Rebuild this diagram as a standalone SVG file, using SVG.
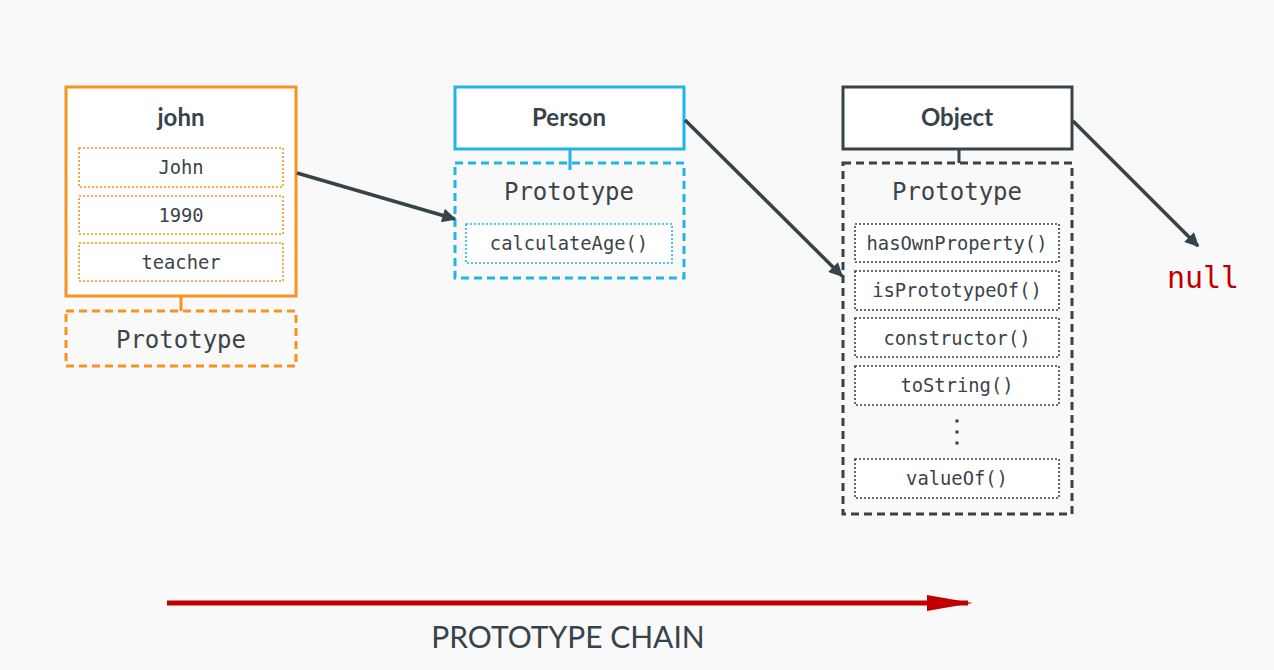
<svg xmlns="http://www.w3.org/2000/svg" width="1274" height="670" viewBox="0 0 1274 670">
<defs>
<style>
.title{font-family:Lato,"Liberation Sans",sans-serif;font-weight:700;font-size:24px;fill:#37434a;text-anchor:middle}
.mono{font-family:"DejaVu Sans Mono","Liberation Mono",monospace;fill:#3a4449;text-anchor:middle}
.big{font-size:24px}
.small{font-size:18.8px}
.dot{stroke-width:1.6;stroke-dasharray:2 2;fill:#fff}
.dash{stroke-width:3;stroke-dasharray:8 5;fill:none}
.solid{stroke-width:3;fill:#fff}
.conn{stroke:#37434a;stroke-width:3.5;fill:none}
</style>
<marker id="ah" viewBox="0 0 10 10" refX="9" refY="5" markerWidth="18" markerHeight="14" markerUnits="userSpaceOnUse" orient="auto">
<path d="M0,0 L10,5 L0,10 z" fill="#37434a"/>
</marker>
<marker id="rh" viewBox="0 0 10 10" refX="9" refY="5" markerWidth="46" markerHeight="16" markerUnits="userSpaceOnUse" orient="auto" preserveAspectRatio="none">
<path d="M0,0 L10,5 L0,10 z" fill="#c00000"/>
</marker>
</defs>
<rect width="1274" height="670" fill="#f9f9f9"/>

<g id="john">
<line x1="181" y1="296" x2="181" y2="311" stroke="#f7931e" stroke-width="3"/>
<rect class="solid" x="66" y="87" width="230" height="209" stroke="#f7931e"/>
<text class="title" x="181" y="126">john</text>
<rect class="dot" x="79" y="148" width="204" height="39" stroke="#f7931e"/>
<text class="mono small" x="181" y="174">John</text>
<rect class="dot" x="79" y="196" width="204" height="38" stroke="#f7931e"/>
<text class="mono small" x="181" y="222">1990</text>
<rect class="dot" x="79" y="243" width="204" height="38" stroke="#f7931e"/>
<text class="mono small" x="181" y="269">teacher</text>
</g>
<g id="john-prototype">
<rect class="dash" x="66" y="311" width="230" height="55" stroke="#f7931e"/>
<text class="mono big" x="181" y="348">Prototype</text>
</g>

<g id="person">
<line x1="570" y1="149" x2="570" y2="170" stroke="#1fb5e6" stroke-width="3"/>
<rect class="solid" x="455" y="87" width="229" height="62" stroke="#1fb5e6"/>
<text class="title" x="569" y="126">Person</text>
</g>
<g id="person-prototype">
<rect class="dash" x="455" y="163" width="229" height="115" stroke="#1fb5e6"/>
<text class="mono big" x="569" y="200">Prototype</text>
<rect class="dot" x="466" y="224" width="206" height="39" stroke="#1fb5e6"/>
<text class="mono small" x="569" y="250">calculateAge()</text>
</g>

<g id="object">
<line x1="959" y1="149" x2="959" y2="163" stroke="#37434a" stroke-width="3"/>
<rect class="solid" x="843" y="87" width="229" height="62" stroke="#37434a"/>
<text class="title" x="957" y="126">Object</text>
</g>
<g id="object-prototype">
<rect class="dash" x="843" y="163" width="229" height="351" stroke="#37434a"/>
<text class="mono big" x="957" y="200">Prototype</text>
<rect class="dot" x="855" y="224" width="204" height="38" stroke="#37434a"/>
<text class="mono small" x="957" y="250">hasOwnProperty()</text>
<rect class="dot" x="855" y="271" width="204" height="39" stroke="#37434a"/>
<text class="mono small" x="957" y="297">isPrototypeOf()</text>
<rect class="dot" x="855" y="318" width="204" height="39" stroke="#37434a"/>
<text class="mono small" x="957" y="345">constructor()</text>
<rect class="dot" x="855" y="366" width="204" height="39" stroke="#37434a"/>
<text class="mono small" x="957" y="392">toString()</text>
<circle cx="957" cy="421" r="1.8" fill="#37434a"/>
<circle cx="957" cy="432" r="1.8" fill="#37434a"/>
<circle cx="957" cy="443" r="1.8" fill="#37434a"/>
<rect class="dot" x="855" y="459" width="204" height="39" stroke="#37434a"/>
<text class="mono small" x="957" y="485">valueOf()</text>
</g>

<g id="null">
<text x="1203" y="288" style="font-family:'DejaVu Sans Mono','Liberation Mono',monospace;font-size:30px;fill:#c00000;text-anchor:middle">null</text>
</g>

<g id="connectors">
<line class="conn" x1="297" y1="173" x2="455" y2="219" marker-end="url(#ah)"/>
<line class="conn" x1="685" y1="120" x2="842" y2="276" marker-end="url(#ah)"/>
<line class="conn" x1="1073" y1="121" x2="1198" y2="246" marker-end="url(#ah)"/>
<line x1="167" y1="603" x2="968" y2="603" stroke="#c00000" stroke-width="5" marker-end="url(#rh)"/>
</g>

<g id="chain-label">
<text x="568" y="648" style="font-family:Lato,'Liberation Sans',sans-serif;font-size:30px;fill:#37434a;text-anchor:middle">PROTOTYPE CHAIN</text>
</g>
</svg>
